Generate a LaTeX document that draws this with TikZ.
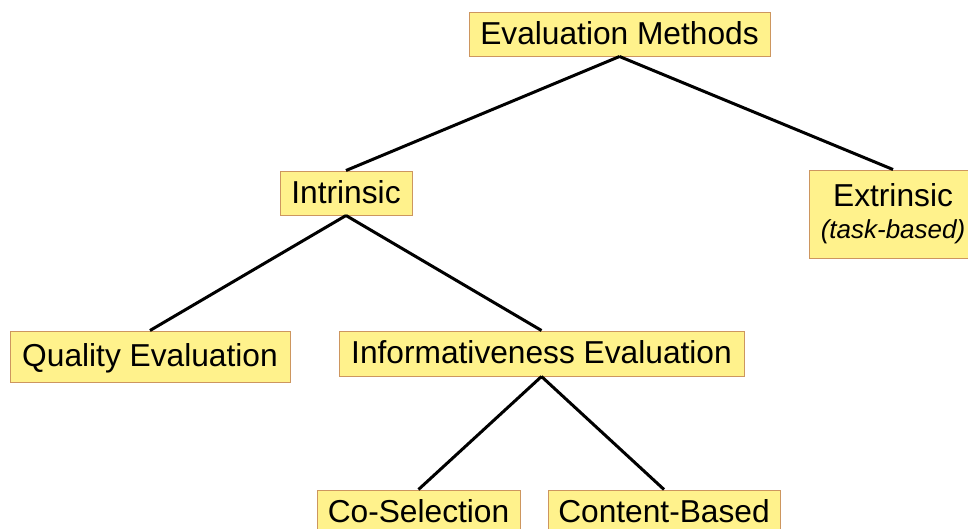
\documentclass[tikz,border=0pt]{standalone}
\usepackage{fontspec}
\setmainfont{Liberation Sans}
\definecolor{boxfill}{RGB}{255,242,140}
\definecolor{boxline}{RGB}{205,150,95}
\tikzset{
	method/.style={draw=boxline, fill=boxfill, line width=1pt, inner xsep=0pt, inner ysep=0pt, text height=25pt, text depth=5pt, font=\fontsize{31.7}{32}\selectfont},
	branch/.style={line width=3pt, black}
}
\begin{document}
\begin{tikzpicture}[x=1pt,y=-1pt]
		\useasboundingbox (0,0) rectangle (968,528);
		\node[method, minimum width=301pt, minimum height=44pt] (eval) at (619.5,34) {Evaluation Methods};
		\node[method, minimum width=132pt, minimum height=44pt] (intr) at (346,193) {Intrinsic};
		\node[draw=boxline, fill=boxfill, line width=1pt, inner sep=0pt, align=center, minimum width=168pt, minimum height=88pt, font=\fontsize{31.7}{32}\selectfont] (extr) at (893,214) {Extrinsic\\{\fontsize{26}{30}\selectfont\itshape(task-based)}};
		\node[method, minimum width=280pt, minimum height=51pt] (qual) at (150,356.5) {Quality Evaluation};
		\node[method, minimum width=405pt, minimum height=45pt] (info) at (541.5,353.5) {Informativeness Evaluation};
		\node[method, minimum width=203pt, minimum height=44pt] (cosel) at (418.5,512) {Co-Selection};
		\node[method, minimum width=232pt, minimum height=44pt] (cont) at (664,512) {Content-Based};
		\draw[branch] (eval.south) -- (intr.north) (eval.south) -- (extr.north);
		\draw[branch] (intr.south) -- (qual.north) (intr.south) -- (info.north);
		\draw[branch] (info.south) -- (cosel.north) (info.south) -- (cont.north);
\end{tikzpicture}
\end{document}
